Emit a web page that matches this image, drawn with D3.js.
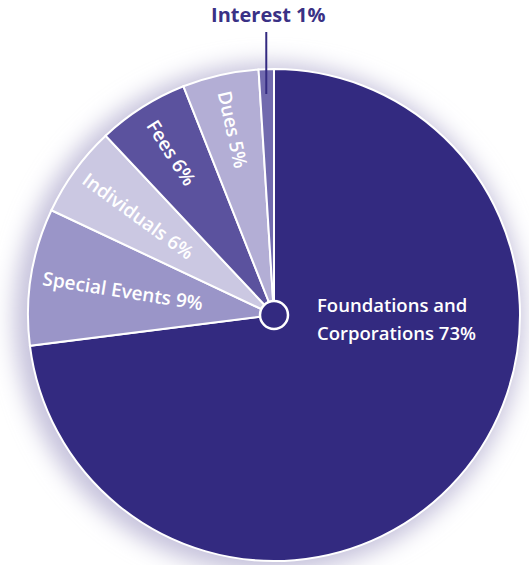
<!DOCTYPE html>
<html>
<head>
<meta charset="utf-8">
<script src="https://cdn.jsdelivr.net/npm/d3@7"></script>
<style>
  body { margin: 0; background: #fff; }
  svg { display: block; }
  text { font-family: "Open Sans", "Lato", sans-serif; }
</style>
</head>
<body>
<svg width="529" height="565"></svg>
<script>
// data
var categories = ["Foundations and Corporations", "Special Events", "Individuals", "Fees", "Dues", "Interest"];
var values = [73, 9, 6, 6, 5, 1];
var colors = ["#332a80", "#9a95c8", "#cbc8e2", "#5b529e", "#b3aed5", "#716aae"];

var svg = d3.select("svg"),
    cx = 274,
    cy = 315,
    radius = 246;

var defs = svg.append("defs");
defs.append("filter").attr("id", "glow")
    .attr("x", "-30%").attr("y", "-30%").attr("width", "160%").attr("height", "160%")
    .append("feGaussianBlur").attr("stdDeviation", 11);

var g = svg.append("g").attr("transform", "translate(" + cx + "," + cy + ")");

// soft shadow behind the pie
g.append("circle")
    .attr("cx", -5).attr("cy", 3)
    .attr("r", radius + 9)
    .attr("fill", "#c6c2dc")
    .attr("filter", "url(#glow)");

var pie = d3.pie().sort(null).value(function(d) { return d; });
var arcs = pie(values);
var arc = d3.arc().innerRadius(0).outerRadius(radius);

g.selectAll(".slice")
    .data(arcs)
    .enter().append("path")
    .attr("class", "slice")
    .attr("d", arc)
    .attr("fill", function(d, i) { return colors[i]; })
    .attr("stroke", "#fff")
    .attr("stroke-width", 2);

g.append("circle")
    .attr("r", 14)
    .attr("fill", "#332a80")
    .attr("stroke", "#fff")
    .attr("stroke-width", 2.5);

// rotated labels for the small slices
var labelR = [0, 153, 168, 192, 190, 0];
arcs.forEach(function(d, i) {
    if (i == 0 || i == 5) return;
    var a = (d.startAngle + d.endAngle) / 2;
    var x = Math.sin(a) * labelR[i],
        y = -Math.cos(a) * labelR[i];
    var rot = a * 180 / Math.PI - 270;
    g.append("text")
        .attr("transform", "translate(" + x + "," + y + ") rotate(" + rot + ")")
        .attr("text-anchor", "middle")
        .attr("dy", "0.35em")
        .attr("fill", "#fff")
        .attr("font-size", 19)
        .attr("font-weight", 600)
        .text(categories[i] + " " + values[i] + "%");
});

// big slice label
var big = g.append("text")
    .attr("fill", "#fff")
    .attr("font-size", 18.5)
    .attr("font-weight", 600);
big.append("tspan").attr("x", 43).attr("y", -3).text("Foundations and");
big.append("tspan").attr("x", 43).attr("y", 25).text("Corporations " + values[0] + "%");

// interest callout
var ia = (arcs[5].startAngle + arcs[5].endAngle) / 2;
var ix = Math.sin(ia) * radius;
g.append("line")
    .attr("x1", ix).attr("x2", ix)
    .attr("y1", -radius + 25).attr("y2", -radius - 37)
    .attr("stroke", "#332a80")
    .attr("stroke-width", 2);
g.append("text")
    .attr("x", ix + 2)
    .attr("y", -radius - 47)
    .attr("text-anchor", "middle")
    .attr("fill", "#3a3185")
    .attr("font-size", 20)
    .attr("font-weight", 700)
    .text(categories[5] + " " + values[5] + "%");
</script>
</body>
</html>
